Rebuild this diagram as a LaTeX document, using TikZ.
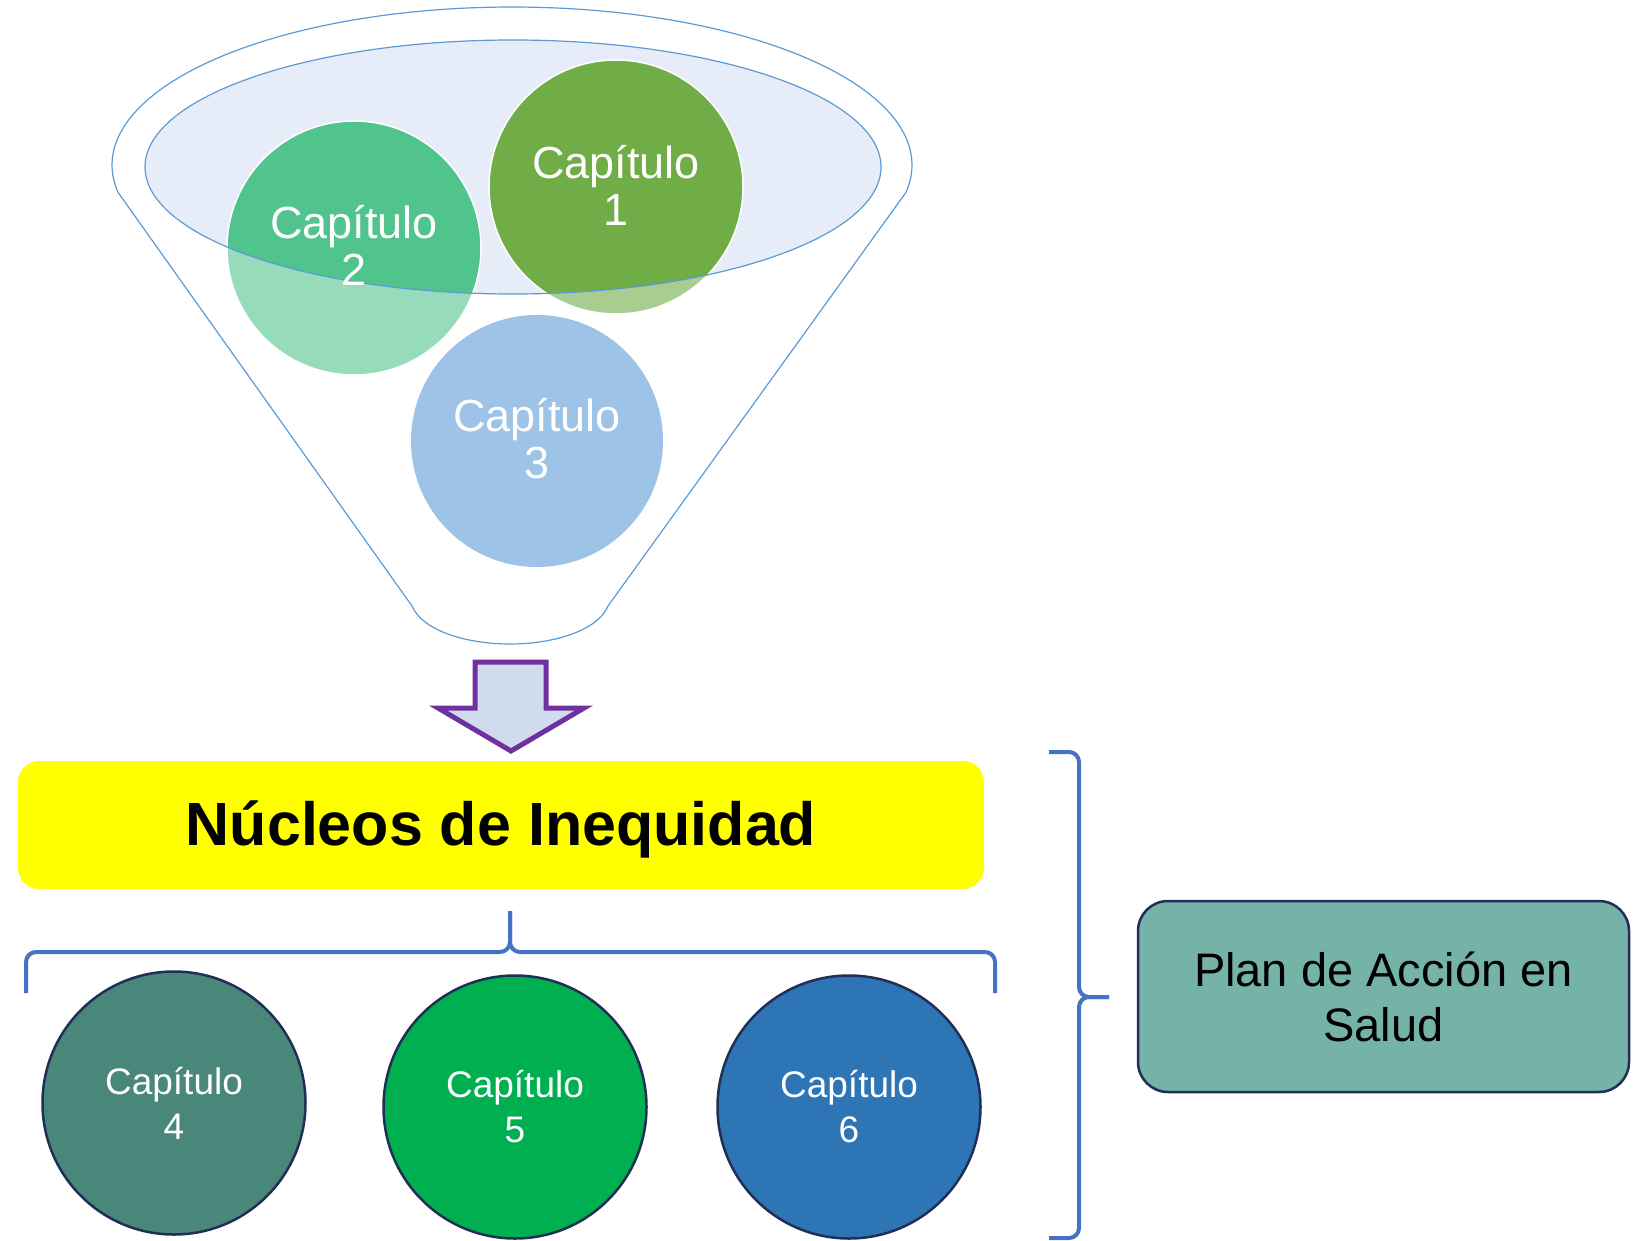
\documentclass[tikz,border=0pt]{standalone}
\usepackage{fontspec}
\setmainfont{Liberation Sans}
\definecolor{funnelblue}{HTML}{5B9BD5}
\definecolor{innerfill}{HTML}{E6EDF8}
\definecolor{cOne}{HTML}{70AD47}
\definecolor{cTwo}{HTML}{50C48C}
\definecolor{cThree}{HTML}{9DC3E6}
\definecolor{cFour}{HTML}{4A877B}
\definecolor{cFive}{HTML}{00B050}
\definecolor{cSix}{HTML}{2E75B6}
\definecolor{navy}{HTML}{1F2F55}
\definecolor{purplearrow}{HTML}{7030A0}
\definecolor{arrowfill}{HTML}{D0DCEE}
\definecolor{bracecol}{HTML}{4472C4}
\definecolor{planfill}{HTML}{75B2A7}
\definecolor{pureyellow}{RGB}{255,255,0}
\begin{document}
\begin{tikzpicture}[x=1pt,y=-1pt,
  funnelline/.style={draw=funnelblue, line width=1.2pt},
  toptext/.style={text=white, align=center, font=\fontsize{45}{47}\selectfont},
  bottomcircle/.style={circle, minimum size=263pt, inner sep=0pt, draw=navy, line width=2.5pt,
     text=white, align=center, font=\fontsize{37}{45}\selectfont},
  bracestyle/.style={draw=bracecol, line width=4pt, rounded corners=10pt},
  arrowstyle/.style={draw=purplearrow, fill=arrowfill, line width=5pt, line join=miter}
]
\useasboundingbox (0,0) rectangle (1637,1241);

% funnel outline
\draw[funnelline, fill=white]
  plot[domain=-10:190, samples=120] ({512+400*cos(\x)},{165-158*sin(\x)})
  -- (412,606) .. controls (422,630) and (465,644) .. (510,644)
  .. controls (555,644) and (598,630) .. (608,606) -- cycle;

% inner ellipse fill
\fill[innerfill] (513,167) ellipse[x radius=368pt, y radius=127pt];

% light parts of circles 1 and 2
\fill[cOne, fill opacity=0.6] (616,187) circle[radius=127pt];
\fill[cTwo, fill opacity=0.6] (354,248) circle[radius=127pt];
\begin{scope}
  \clip (513,167) ellipse[x radius=368pt, y radius=127pt];
  \fill[cOne] (616,187) circle[radius=127pt];
  \fill[cTwo] (354,248) circle[radius=127pt];
\end{scope}
\draw[white, line width=1.5pt] (616,187) circle[radius=127pt];
\draw[white, line width=1.5pt] (354,248) circle[radius=127pt];
\draw[funnelline] (513,167) ellipse[x radius=368pt, y radius=127pt];

% circle 3
\fill[cThree] (537,441) circle[radius=126pt];

\node[toptext] (c1) at (616,185) {Capítulo\\1};
\node[toptext] (c2) at (354,245) {Capítulo\\2};
\node[toptext] (c3) at (537,439) {Capítulo\\3};

% block arrow
\draw[arrowstyle] (475,662) -- (546,662) -- (546,708) -- (584,708) -- (511,751)
  -- (438,708) -- (475,708) -- cycle;

% yellow box
\node[fill=pureyellow, rounded corners=21pt, minimum width=966pt, minimum height=128pt,
      inner sep=0pt] (nucleos) at (501,825) {};
\node[font=\fontsize{61}{70}\selectfont\bfseries, inner sep=0pt] (nucleostext) at (501,829)
      {Núcleos de Inequidad};

% bottom brace
\coordinate (bL) at (26,993);
\coordinate (bM) at (510,911);
\coordinate (bR) at (995,993);
\draw[bracestyle] (bL) -- (26,952) -- (510,952) -- (bM);
\draw[bracestyle] (bM) -- (510,952) -- (995,952) -- (bR);

% bottom circles
\node[bottomcircle, fill=cFour] (c4) at (174,1103) {Capítulo\\4};
\node[bottomcircle, fill=cFive] (c5) at (515,1107) {Capítulo\\5};
\node[bottomcircle, fill=cSix] (c6) at (849,1107) {Capítulo\\6};

% right brace
\coordinate (rT) at (1049,752);
\coordinate (rC) at (1109,997);
\coordinate (rB) at (1049,1238);
\draw[bracestyle] (rT) -- (1079,752) -- (1079,997) -- (rC);
\draw[bracestyle] (rC) -- (1079,997) -- (1079,1238) -- (rB);

% plan box
\node[fill=planfill, draw=navy, line width=2.5pt, rounded corners=30pt,
      minimum width=491pt, minimum height=191pt, inner sep=0pt, align=center,
      font=\fontsize{47}{55}\selectfont] (plan) at (1383.5,996.5)
      {Plan de Acción en\\Salud};
\end{tikzpicture}
\end{document}
